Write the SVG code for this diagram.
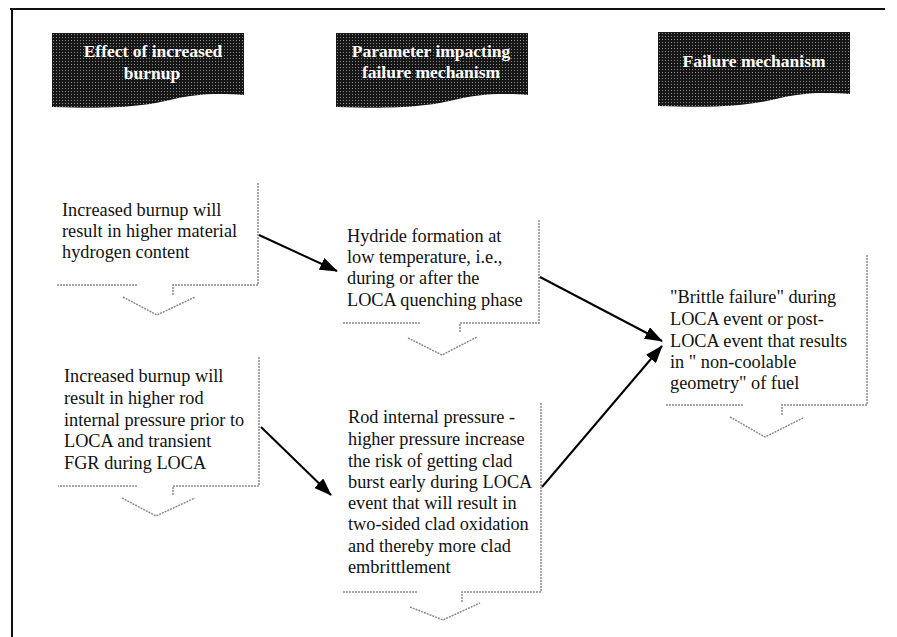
<svg xmlns="http://www.w3.org/2000/svg" width="897" height="637" viewBox="0 0 897 637">
<defs>
<pattern id="tex" width="3" height="3" patternUnits="userSpaceOnUse">
<rect width="3" height="3" fill="#161616"/>
<rect x="1" y="1" width="1" height="1" fill="#8c8c8c"/>
</pattern>
<path id="hdr" d="M0,0 H192 V62 C163,60 143,61 118,67 C88,74 58,76 0,74 Z"/>
<marker id="ah" markerUnits="userSpaceOnUse" markerWidth="18" markerHeight="13" refX="17" refY="6.5" orient="auto">
<path d="M0,0 L18,6.5 L0,13 Z" fill="#000"/>
</marker>
</defs>
<style>
.hd{fill:url(#tex);}
.ht{font-family:"Liberation Serif",serif;font-weight:bold;font-size:17.5px;fill:#fff;text-anchor:middle;}
.bt{font-family:"Liberation Serif",serif;font-size:18.3px;fill:#111;}
.ol{fill:none;stroke:#8a8a8a;stroke-width:1.5;stroke-dasharray:2 1;}
.cn{fill:none;stroke:#000;stroke-width:2;marker-end:url(#ah);}
.fr{fill:none;stroke:#111;stroke-width:2;}
</style>
<g id="frame">
<path class="fr" d="M10,9 H885 M12,9 V637"/>
</g>
<g id="header1">
<use href="#hdr" class="hd" x="52" y="33"/>
<text class="ht" x="153" y="57">Effect of increased</text>
<text class="ht" x="152" y="79">burnup</text>
</g>
<g id="header2">
<use href="#hdr" class="hd" x="336" y="33"/>
<text class="ht" x="431" y="57">Parameter impacting</text>
<text class="ht" x="431" y="78">failure mechanism</text>
</g>
<g id="header3">
<use href="#hdr" class="hd" x="658" y="32"/>
<text class="ht" x="754" y="67">Failure mechanism</text>
</g>
<g id="box1">
<path class="ol" d="M258,183 V285 H173 V295 M137,285 H57 M123,297 L157,315 L195,297"/>
<text class="bt" x="62" y="216">Increased burnup will</text>
<text class="bt" x="62" y="237">result in higher material</text>
<text class="bt" x="62" y="258">hydrogen content</text>
</g>
<g id="box2">
<path class="ol" d="M539,220 V323 H460 V333 M420,323 H342 M408,338 L442,355 L477,337"/>
<text class="bt" x="347" y="242">Hydride formation at</text>
<text class="bt" x="347" y="263">low temperature, i.e.,</text>
<text class="bt" x="347" y="284">during or after the</text>
<text class="bt" x="347" y="306">LOCA quenching phase</text>
</g>
<g id="box3">
<path class="ol" d="M867,255 V405 H782 V415 M743,405 H665 M730,417 L765,437 L803,418"/>
<text class="bt" x="670" y="303">"Brittle failure" during</text>
<text class="bt" x="670" y="325">LOCA event or post-</text>
<text class="bt" x="670" y="347">LOCA event that results</text>
<text class="bt" x="670" y="368">in " non-coolable</text>
<text class="bt" x="670" y="389">geometry" of fuel</text>
</g>
<g id="box4">
<path class="ol" d="M259,357 V486 H173 V496 M137,486 H58 M122,498 L156,516 L195,498"/>
<text class="bt" x="64" y="382">Increased burnup will</text>
<text class="bt" x="64" y="404">result in higher rod</text>
<text class="bt" x="64" y="426">internal pressure prior to</text>
<text class="bt" x="64" y="447">LOCA and transient</text>
<text class="bt" x="64" y="469">FGR during LOCA</text>
</g>
<g id="box5">
<path class="ol" d="M541,403 V592 H462 V602 M417,592 H342 M410,607 L443,620 L480,603"/>
<text class="bt" x="348" y="423">Rod internal pressure -</text>
<text class="bt" x="348" y="445">higher pressure increase</text>
<text class="bt" x="348" y="467">the risk of getting clad</text>
<text class="bt" x="348" y="488">burst early during LOCA</text>
<text class="bt" x="348" y="509">event that will result in</text>
<text class="bt" x="348" y="530">two-sided clad oxidation</text>
<text class="bt" x="348" y="552">and thereby more clad</text>
<text class="bt" x="348" y="573">embrittlement</text>
</g>
<g id="connectors">
<path class="cn" d="M259,235 L337,271"/>
<path class="cn" d="M540,277 L662,341"/>
<path class="cn" d="M261,427 L331,495"/>
<path class="cn" d="M542,487 L662,346"/>
</g>
</svg>
